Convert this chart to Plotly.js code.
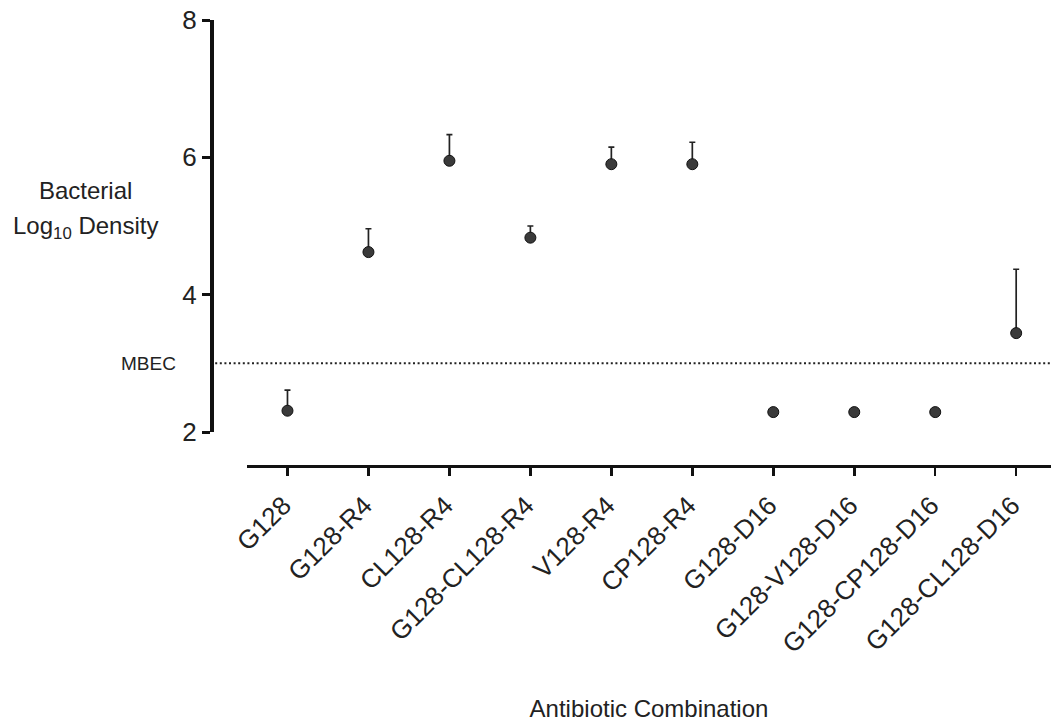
<!DOCTYPE html>
<html>
<head>
<meta charset="utf-8">
<script src="https://cdn.plot.ly/plotly-3.0.1.min.js"></script>
<style>
html,body{margin:0;padding:0;background:#fff;}
#chart{width:1051px;height:723px;}
</style>
</head>
<body>
<div id="chart"></div>
<script>
// Data
const categories = ["G128", "G128-R4", "CL128-R4", "G128-CL128-R4", "V128-R4", "CP128-R4",
                    "G128-D16", "G128-V128-D16", "G128-CP128-D16", "G128-CL128-D16"];
const logDensity = [2.31, 4.62, 5.95, 4.83, 5.90, 5.90, 2.29, 2.29, 2.29, 3.44];
const errorUpper = [0.30, 0.34, 0.38, 0.17, 0.25, 0.32, null, null, null, 0.93];
const errorLower = [0, 0, 0, 0, 0, 0, null, null, null, 0];
const mbecValue = 3.0;
const yTickValues = [2, 4, 6, 8];

const FONT = "Liberation Sans, Arial, Helvetica, sans-serif";
const INK = "#222";

const trace = {
  type: "scatter",
  mode: "markers",
  x: categories,
  y: logDensity,
  marker: {size: 11, color: "#3a3a3a", line: {color: "#111", width: 1}},
  error_y: {
    type: "data",
    symmetric: false,
    array: errorUpper,
    arrayminus: errorLower,
    color: "#222",
    thickness: 1.7,
    width: 3
  },
  showlegend: false,
  hoverinfo: "x+y"
};

const layout = {
  width: 1051,
  height: 723,
  margin: {l: 211, r: 0, t: 20, b: 257},
  paper_bgcolor: "#fff",
  plot_bgcolor: "#fff",
  font: {family: FONT, color: INK, size: 24},
  xaxis: {
    type: "category",
    domain: [36 / 840, 1],
    range: [-0.5, 9.43],
    anchor: "free",
    position: 0,
    showline: true,
    linecolor: "#111",
    linewidth: 3,
    showgrid: false,
    zeroline: false,
    ticks: "outside",
    ticklen: 8,
    tickwidth: 2.5,
    tickcolor: "#111",
    tickangle: -45,
    ticklabelstandoff: 4,
    ticklabelshift: -4,
    tickfont: {family: FONT, size: 26, color: INK},
    title: {text: "Antibiotic Combination", font: {family: FONT, size: 24, color: INK}, standoff: 42}
  },
  yaxis: {
    domain: [34 / 446, 1],
    range: [2, 8],
    anchor: "free",
    position: 0,
    showline: true,
    linecolor: "#111",
    linewidth: 3.5,
    showgrid: false,
    zeroline: false,
    ticks: "outside",
    ticklen: 8,
    tickwidth: 3,
    tickcolor: "#111",
    tickvals: yTickValues,
    ticktext: yTickValues.map(String),
    tickfont: {family: FONT, size: 26, color: INK}
  },
  shapes: [{
    type: "line",
    xref: "paper", yref: "y",
    x0: 0.005, x1: 1,
    y0: mbecValue, y1: mbecValue,
    line: {color: "#222", width: 2, dash: "2px,2.6px"}
  }],
  annotations: [
    {
      xref: "paper", yref: "y",
      x: -0.15, y: 5.524,
      xanchor: "center", yanchor: "middle",
      text: "Bacterial",
      showarrow: false,
      font: {family: FONT, size: 24, color: INK}
    },
    {
      xref: "paper", yref: "y",
      x: -0.15, y: 4.98,
      xanchor: "center", yanchor: "middle",
      text: "Log<sub>10</sub> Density",
      showarrow: false,
      font: {family: FONT, size: 24, color: INK}
    },
    {
      xref: "paper", yref: "y",
      x: -0.075, y: mbecValue,
      xanchor: "center", yanchor: "middle",
      text: "MBEC",
      showarrow: false,
      font: {family: FONT, size: 19, color: INK}
    }
  ]
};

Plotly.newPlot("chart", [trace], layout, {staticPlot: true, displayModeBar: false});
</script>
</body>
</html>
